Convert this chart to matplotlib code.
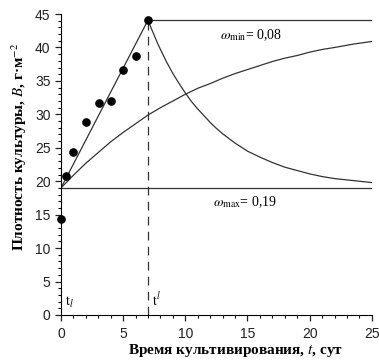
import numpy as np
import matplotlib.pyplot as plt
from matplotlib.ticker import MultipleLocator

plt.rcParams['mathtext.fontset'] = 'stix'

# experimental points
t_pts = [0.0, 0.4, 1.0, 2.0, 3.05, 4.0, 5.0, 6.0, 7.0]
b_pts = [14.4, 20.8, 24.4, 28.9, 31.7, 32.0, 36.6, 38.7, 44.1]

# linear rise before t^l
t_rise = [0.0, 7.0]
b_rise = [19.0, 44.1]

# decay branch (omega_max)
t_dec = [7.0, 7.25, 7.5, 7.75, 8.0, 8.5, 9.0, 9.5, 10.0, 10.5, 11.0, 11.5, 12.0, 12.5, 13.0, 14.0,
         15.0, 16.0, 17.0, 18.0, 19.0, 20.0, 21.0, 22.0, 23.5, 25.0]
b_dec = [44.1, 42.9, 41.8, 40.7, 39.7, 37.8, 36.1, 34.6, 33.2, 31.9, 30.8, 29.8, 28.8, 27.9, 27.1, 25.7,
         24.5, 23.6, 22.8, 22.1, 21.6, 21.1, 20.7, 20.4, 20.1, 19.8]

# saturating branch (omega_min)
t_sat = [0.0, 1.0, 2.0, 3.0, 4.0, 5.0, 6.0, 7.0, 8.0, 9.0, 10.0, 11.0, 12.0, 13.0, 14.0, 15.0, 16.0,
         17.0, 18.0, 19.0, 20.0, 21.0, 22.0, 23.5, 25.0]
b_sat = [19.0, 20.9, 22.7, 24.3, 25.9, 27.3, 28.6, 29.9, 31.0, 32.0, 33.0, 33.9, 34.6, 35.4, 36.1, 36.7, 37.3,
         37.9, 38.4, 38.8, 39.3, 39.7, 40.0, 40.5, 40.9]

b_top = 44.1
b_low = 19.0
t_l = 7.0

fig = plt.figure(figsize=(3.79, 3.6), dpi=100)
ax = fig.add_axes([0.161, 0.125, 0.82, 0.836])

lc = '#333333'
ax.plot(t_rise, b_rise, color=lc, lw=0.9)
ax.plot(t_dec, b_dec, color=lc, lw=0.9)
ax.plot(t_sat, b_sat, color=lc, lw=0.9)
ax.plot([t_l, 25], [b_top, b_top], color=lc, lw=0.9)
ax.plot([0, 25], [b_low, b_low], color=lc, lw=0.9)
ax.plot([t_l, t_l], [0, b_top], color=lc, lw=0.9, dashes=(7, 5))
ax.plot(t_pts, b_pts, 'o', color='black', ms=5.2, clip_on=False, zorder=5)

ax.text(12.8, 41.9, r'$\omega_{\rm min}$= 0,08', fontsize=10, family='Liberation Serif', va='center')
ax.text(12.2, 16.9, r'$\omega_{\rm max}$= 0,19', fontsize=10, family='Liberation Serif', va='center')
ax.text(0.3, 1.4, r'$\rm t_{\it l}$', fontsize=10, family='Liberation Serif')
ax.text(7.3, 1.4, r'$\rm t^{\it l}$', fontsize=10, family='Liberation Serif')

ax.set_xlim(0, 25)
ax.set_ylim(0, 45)
ax.spines['top'].set_visible(False)
ax.spines['right'].set_visible(False)
ax.xaxis.set_major_locator(MultipleLocator(5))
ax.xaxis.set_minor_locator(MultipleLocator(1))
ax.yaxis.set_major_locator(MultipleLocator(5))
ax.yaxis.set_minor_locator(MultipleLocator(1))
ax.tick_params(which='major', length=4, width=0.9, labelsize=10, colors='#222222')
ax.tick_params(which='minor', length=2.5, width=0.8)
ax.tick_params(axis='x', which='major', pad=5)
for lab in ax.get_xticklabels() + ax.get_yticklabels():
    lab.set_family('Liberation Sans')

ax.set_xlabel('Время культивирования, $\\mathit{t}$, сут', fontsize=11,
              fontweight='bold', family='Liberation Serif')
ax.set_ylabel('Плотность культуры, $\\mathit{B}$, г·м$^{-2}$', fontsize=11,
              fontweight='bold', family='Liberation Serif')
ax.xaxis.set_label_coords(0.563, -0.118)
ax.yaxis.set_label_coords(-0.135, 0.56)
ax.xaxis.label.set_va('center')
ax.yaxis.label.set_va('center')

fig.savefig('out.png', dpi=100)
